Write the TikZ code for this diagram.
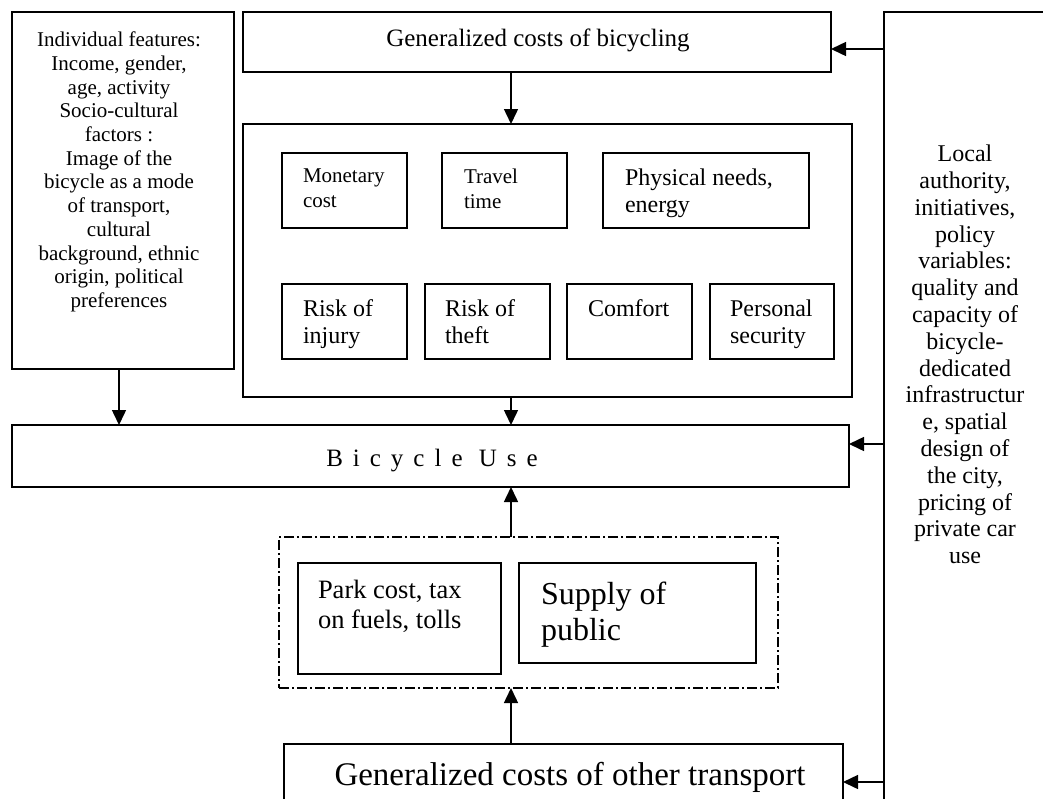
\documentclass[tikz,border=0pt]{standalone}
\usepackage{fontspec}
\setmainfont{Liberation Serif}
\usetikzlibrary{arrows.meta}
\newcommand\fsz[2]{\fontsize{#1}{#2}\selectfont}
\begin{document}
\begin{tikzpicture}[x=1pt,y=-1pt,
  bx/.style={draw, line width=1.6pt, inner sep=0pt, outer sep=0pt},
  lbl/.style={inner sep=0pt, outer sep=0pt, align=left, anchor=north west},
  clbl/.style={inner sep=0pt, outer sep=0pt, align=center, anchor=north},
  blbl/.style={inner sep=0pt, outer sep=0pt, anchor=base},
  arr/.style={line width=1.5pt, -{Triangle[length=15pt,width=14pt]}},
  dashdot/.style={draw, line width=1.4pt, dash pattern=on 10pt off 3pt on 2pt off 3pt, inner sep=0pt, outer sep=0pt}]
\useasboundingbox (0,0) rectangle (1043,798);
\fill[white] (0,0) rectangle (1043,798);

% boxes
\node[bx, minimum width=222pt, minimum height=357pt] (left) at (123,190.5) {};
\node[bx, minimum width=588pt, minimum height=60pt] (top) at (537,42) {};
\node[bx, minimum width=609pt, minimum height=273pt] (big) at (547.5,260.5) {};
\node[bx, minimum width=125pt, minimum height=75pt] (money) at (344.5,190.5) {};
\node[bx, minimum width=125pt, minimum height=75pt] (travel) at (504.5,190.5) {};
\node[bx, minimum width=206pt, minimum height=75pt] (phys) at (706,190.5) {};
\node[bx, minimum width=125pt, minimum height=75pt] (injury) at (344.5,321.5) {};
\node[bx, minimum width=125pt, minimum height=75pt] (theft) at (487.5,321.5) {};
\node[bx, minimum width=125pt, minimum height=75pt] (comfort) at (629.5,321.5) {};
\node[bx, minimum width=124pt, minimum height=75pt] (personal) at (772,321.5) {};
\node[bx, minimum width=837pt, minimum height=62pt] (bike) at (430.5,456) {};
\node[dashdot, minimum width=499pt, minimum height=151pt] (group) at (528.5,612.5) {};
\node[bx, minimum width=203pt, minimum height=111pt] (park) at (399.5,618.5) {};
\node[bx, minimum width=237pt, minimum height=100pt] (supply) at (637.5,613) {};
\node[bx, minimum width=559pt, minimum height=86pt] (other) at (563.5,787) {};
\node[bx, minimum width=166pt, minimum height=818pt] (right) at (967,421) {};

% texts
\node[clbl, font=\fsz{21}{23.7}] (leftlbl) at (119,32) {Individual features:\\Income, gender,\\age, activity\\Socio-cultural\\factors :\\Image of the\\bicycle as a mode\\of transport,\\cultural\\background, ethnic\\origin, political\\preferences};
\node[blbl, font=\fsz{25}{28}] (toplbl) at (538,46) {Generalized costs of bicycling};
\node[lbl, font=\fsz{21}{24.5}] (moneylbl) at (303,169) {Monetary\\cost};
\node[lbl, font=\fsz{21}{24.5}] (travellbl) at (464,169) {Travel\\time};
\node[lbl, font=\fsz{24}{27}] (physlbl) at (625,169) {Physical needs,\\energy};
\node[lbl, font=\fsz{24}{27}] (injurylbl) at (303,300) {Risk of\\injury};
\node[lbl, font=\fsz{24}{27}] (theftlbl) at (445,300) {Risk of\\theft};
\node[lbl, font=\fsz{24}{27}] (comfortlbl) at (588,300) {Comfort};
\node[lbl, font=\fsz{24}{27}] (personallbl) at (730,300) {Personal\\security};
\node[blbl, font={\fsz{25}{28}\addfontfeature{LetterSpace=40}}] (bikelbl) at (432,466) {Bicycle Use};
\node[lbl, font=\fsz{26.5}{30}] (parklbl) at (318,580) {Park cost, tax\\on fuels, tolls};
\node[lbl, font=\fsz{32}{36}] (supplylbl) at (541,582) {Supply of\\public};
\node[blbl, font=\fsz{33}{36}] (otherlbl) at (570,785) {Generalized costs of other transport};
\node[clbl, font=\fsz{24}{26.8}] (rightlbl) at (965,145) {Local\\authority,\\initiatives,\\policy\\variables:\\quality and\\capacity of\\bicycle-\\dedicated\\infrastructur\\e, spatial\\design of\\the city,\\pricing of\\private car\\use};

% connectors
\coordinate (ax) at (511,0);
\coordinate (lx) at (119,0);
\coordinate (y1) at (0,49);
\coordinate (y2) at (0,444);
\coordinate (y3) at (0,782);
\draw[arr] (left.south -| lx) -- (bike.north -| lx);
\draw[arr] (top.south -| ax) -- (big.north -| ax);
\draw[arr] (big.south -| ax) -- (bike.north -| ax);
\draw[arr] (group.north -| ax) -- (bike.south -| ax);
\draw[arr] (other.north -| ax) -- (group.south -| ax);
\draw[arr] (right.west |- y1) -- (top.east |- y1);
\draw[arr] (right.west |- y2) -- (bike.east |- y2);
\draw[arr] (right.west |- y3) -- (other.east |- y3);
\end{tikzpicture}
\end{document}
